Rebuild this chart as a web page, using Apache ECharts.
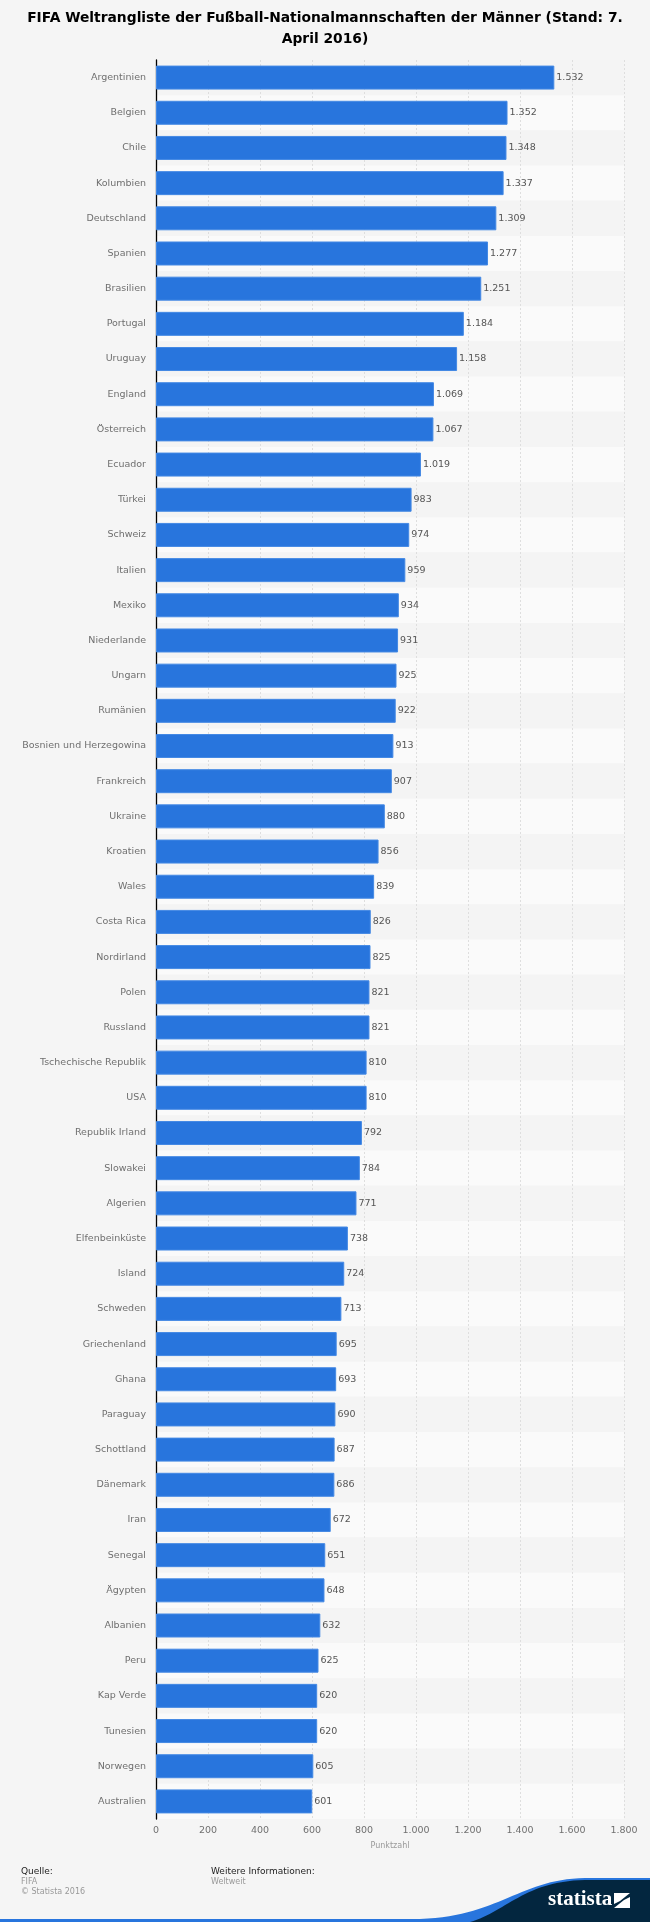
<!DOCTYPE html>
<html>
  <head>
    <meta charset="utf-8" />
    <script src="https://cdn.jsdelivr.net/npm/echarts@6/dist/echarts.min.js"></script>
    <style>
      html, body { margin: 0; padding: 0; background: #f5f5f5; }
    </style>
  </head>
  <body>
    <div id="main" style="width: 650px; height: 1922px"></div>

    <script type="text/javascript">
      const countries = [
        "Argentinien", "Belgien", "Chile", "Kolumbien", "Deutschland", "Spanien", "Brasilien",
        "Portugal", "Uruguay", "England", "Österreich", "Ecuador", "Türkei", "Schweiz", "Italien",
        "Mexiko", "Niederlande", "Ungarn", "Rumänien", "Bosnien und Herzegowina", "Frankreich",
        "Ukraine", "Kroatien", "Wales", "Costa Rica", "Nordirland", "Polen", "Russland",
        "Tschechische Republik", "USA", "Republik Irland", "Slowakei", "Algerien", "Elfenbeinküste",
        "Island", "Schweden", "Griechenland", "Ghana", "Paraguay", "Schottland", "Dänemark", "Iran",
        "Senegal", "Ägypten", "Albanien", "Peru", "Kap Verde", "Tunesien", "Norwegen", "Australien"
      ];
      const points = [
        1532, 1352, 1348, 1337, 1309, 1277, 1251, 1184, 1158, 1069, 1067, 1019, 983, 974, 959,
        934, 931, 925, 922, 913, 907, 880, 856, 839, 826, 825, 821, 821, 810, 810, 792, 784,
        771, 738, 724, 713, 695, 693, 690, 687, 686, 672, 651, 648, 632, 625, 620, 620, 605, 601
      ];

      // german thousands separator
      function fmt(v) {
        return v >= 1000 ? Math.floor(v / 1000) + "." + String(v % 1000).padStart(3, "0") : String(v);
      }

      // footer swoosh outline, graphic component has no bezier fill
      function curve(p0, p1, p2, p3) {
        const out = [];
        for (let i = 0; i <= 30; i++) {
          const t = i / 30, u = 1 - t;
          out.push([
            u * u * u * p0[0] + 3 * u * u * t * p1[0] + 3 * u * t * t * p2[0] + t * t * t * p3[0],
            u * u * u * p0[1] + 3 * u * u * t * p1[1] + 3 * u * t * t * p2[1] + t * t * t * p3[1],
          ]);
        }
        return out;
      }

      const FONT = "DejaVu Sans";

      var option = {
        backgroundColor: "#f5f5f5",
        animation: false,
        title: {
          text: "FIFA Weltrangliste der Fußball-Nationalmannschaften der Männer (Stand: 7.\nApril 2016)",
          left: "center",
          top: 3,
          textStyle: {
            fontFamily: FONT,
            fontSize: 13.85,
            fontWeight: "bold",
            color: "#000",
            lineHeight: 21,
            align: "center",
          },
        },
        grid: { left: 156, right: 26, top: 60, bottom: 103 },
        xAxis: {
          type: "value",
          min: 0,
          max: 1800,
          interval: 200,
          axisLine: { show: false },
          axisTick: { show: false },
          axisLabel: {
            fontFamily: FONT,
            fontSize: 9.5,
            color: "#707070",
            margin: 7,
            formatter: fmt,
          },
          splitLine: { lineStyle: { color: "#dedede", type: [2, 2], width: 1 } },
          name: "Punktzahl",
          nameLocation: "middle",
          nameGap: 23,
          nameTextStyle: { fontFamily: FONT, fontSize: 8, color: "#999" },
        },
        yAxis: {
          type: "category",
          inverse: true,
          data: countries,
          axisLine: { show: true, lineStyle: { color: "#000", width: 1.3 } },
          axisTick: { show: false },
          axisLabel: {
            fontFamily: FONT,
            fontSize: 9.5,
            color: "#6f6f6f",
            margin: 10,
            interval: 0,
          },
          splitArea: { show: true, areaStyle: { color: ["#f4f4f4", "#fafafa"] } },
        },
        series: [
          {
            name: "Punktzahl",
            type: "bar",
            data: points,
            barWidth: 24,
            itemStyle: { color: "#2875dd", borderColor: "#4489e4", borderWidth: 1 },
            label: {
              show: true,
              position: "right",
              distance: 2,
              fontFamily: FONT,
              fontSize: 9.5,
              color: "#555",
              formatter: (p) => fmt(p.value),
            },
          },
        ],
        graphic: [
          { type: "text", x: 21, y: 1867, style: { text: "Quelle:", font: "9px " + FONT, fill: "#222" } },
          { type: "text", x: 21, y: 1878, style: { text: "FIFA", font: "8px " + FONT, fill: "#999" } },
          { type: "text", x: 21, y: 1888, style: { text: "© Statista 2016", font: "8px " + FONT, fill: "#999" } },
          { type: "text", x: 211, y: 1867, style: { text: "Weitere Informationen:", font: "9px " + FONT, fill: "#222" } },
          { type: "text", x: 211, y: 1878, style: { text: "Weltweit", font: "8px " + FONT, fill: "#999" } },
          // footer swoosh and logo
          {
            type: "polygon",
            shape: {
              points: [[0, 1919]].concat(curve([420, 1919], [500, 1916], [520, 1879], [585, 1878]), [[650, 1878], [650, 1922], [0, 1922]]),
            },
            style: { fill: "#2875dd" },
          },
          {
            type: "polygon",
            shape: {
              points: curve([470, 1922], [505, 1912], [525, 1881], [585, 1880]).concat([[650, 1880], [650, 1922]]),
            },
            style: { fill: "#03263f" },
          },
          {
            type: "text",
            x: 548,
            y: 1889,
            style: { text: "statista", font: "bold 21px 'Liberation Sans Narrow'", fill: "#fff" },
          },
          {
            type: "polygon",
            shape: { points: [[614, 1893], [630, 1893], [620, 1901], [614, 1904]] },
            style: { fill: "#fff" },
          },
          {
            type: "polygon",
            shape: { points: [[630, 1897], [630, 1908], [614, 1908], [624, 1900]] },
            style: { fill: "#fff" },
          },
        ],
      };

      const chartContainer = document.getElementById("main");
      const myChart = echarts.init(chartContainer);
      myChart.setOption(option);
    </script>
  </body>
</html>
